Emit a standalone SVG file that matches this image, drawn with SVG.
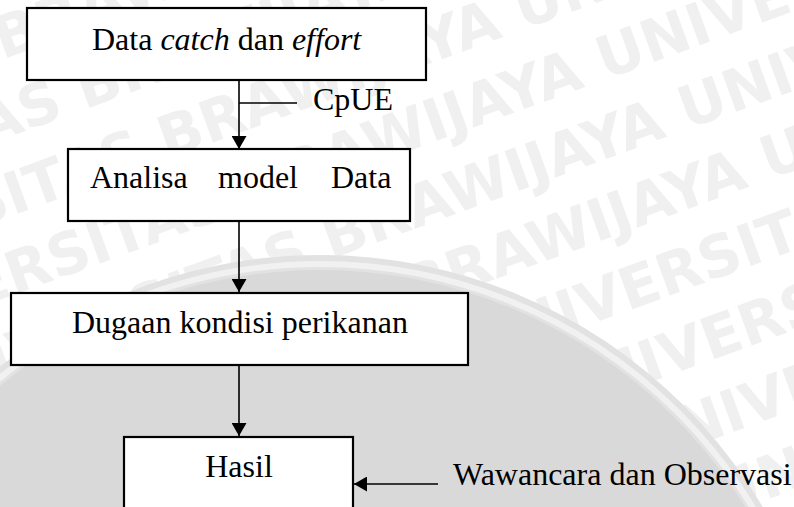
<svg xmlns="http://www.w3.org/2000/svg" width="794" height="507" viewBox="0 0 794 507">
  <defs>
    <style>
      .box{fill:#fff;stroke:#000;stroke-width:2.2}
      .lbl{font-size:32px;fill:#000}
      .conn{stroke:#000;stroke-width:1.6;fill:none}
      .wm{font-family:"DejaVu Sans","Liberation Sans",sans-serif;font-weight:bold;font-size:58px;fill:#f0f0f0}
    </style>
    <marker id="arrow" markerUnits="userSpaceOnUse" viewBox="0 0 13 15" refX="13" refY="7.5" markerWidth="13" markerHeight="15" orient="auto">
      <path d="M0,0 L13,7.5 L0,15 Z" fill="#000"/>
    </marker>
  </defs>

  <!-- background -->
  <rect width="794" height="507" fill="#fff"/>
  <g id="watermark" transform="rotate(-20 400 250)">
    <text class="wm" x="-420" y="-140">UNIVERSITAS BRAWIJAYA UNIVERSITAS BRAWIJAYA</text>
    <text class="wm" x="-360" y="-65">UNIVERSITAS BRAWIJAYA UNIVERSITAS BRAWIJAYA</text>
    <text class="wm" x="-300" y="10">UNIVERSITAS BRAWIJAYA UNIVERSITAS BRAWIJAYA</text>
    <text class="wm" x="-240" y="85">UNIVERSITAS BRAWIJAYA UNIVERSITAS BRAWIJAYA</text>
    <text class="wm" x="-180" y="160">UNIVERSITAS BRAWIJAYA UNIVERSITAS BRAWIJAYA</text>
    <text class="wm" x="-120" y="235">UNIVERSITAS BRAWIJAYA UNIVERSITAS BRAWIJAYA</text>
    <text class="wm" x="-60" y="310">UNIVERSITAS BRAWIJAYA UNIVERSITAS BRAWIJAYA</text>
    <text class="wm" x="-400" y="385">UNIVERSITAS BRAWIJAYA UNIVERSITAS BRAWIJAYA</text>
    <text class="wm" x="-340" y="460">UNIVERSITAS BRAWIJAYA UNIVERSITAS BRAWIJAYA</text>
    <text class="wm" x="-280" y="535">UNIVERSITAS BRAWIJAYA UNIVERSITAS BRAWIJAYA</text>
    <text class="wm" x="-220" y="610">UNIVERSITAS BRAWIJAYA UNIVERSITAS BRAWIJAYA</text>
  </g>
  <!-- emblem disc -->
  <g id="emblem">
    <circle cx="320" cy="770" r="515" fill="#e2e2e2"/>
    <circle cx="320" cy="770" r="500" fill="#d9d9d9"/>
    <circle cx="320" cy="770" r="506" fill="none" stroke="#f1f1f1" stroke-width="6"/>
  </g>

  <g font-family="'Liberation Serif', 'Times New Roman', Times, serif">
    <!-- connectors -->
    <g id="connectors">
      <line class="conn" x1="239" y1="80" x2="239" y2="149" marker-end="url(#arrow)"/>
      <line class="conn" x1="239" y1="103" x2="297" y2="103"/>
      <line class="conn" x1="239" y1="221" x2="239" y2="292" marker-end="url(#arrow)"/>
      <line class="conn" x1="239" y1="365" x2="239" y2="436" marker-end="url(#arrow)"/>
      <line class="conn" x1="438" y1="484" x2="354" y2="484" marker-end="url(#arrow)"/>
      <text class="lbl" x="313" y="110">CpUE</text>
      <text class="lbl" x="453" y="485">Wawancara dan Observasi</text>
    </g>

    <!-- nodes -->
    <g id="node-data">
      <rect class="box" x="27" y="8" width="399" height="72"/>
      <text class="lbl" x="92" y="50">Data <tspan font-style="italic">catch</tspan> dan <tspan font-style="italic">effort</tspan></text>
    </g>
    <g id="node-analisa">
      <rect class="box" x="68" y="149" width="342" height="72"/>
      <text class="lbl" x="90" y="188">Analisa</text>
      <text class="lbl" x="218" y="188">model</text>
      <text class="lbl" x="331" y="188">Data</text>
    </g>
    <g id="node-dugaan">
      <rect class="box" x="11" y="293" width="457" height="72"/>
      <text class="lbl" x="72" y="333">Dugaan kondisi perikanan</text>
    </g>
    <g id="node-hasil">
      <rect class="box" x="124" y="437" width="229" height="90"/>
      <text class="lbl" x="239" y="477" text-anchor="middle">Hasil</text>
    </g>
  </g>
</svg>
